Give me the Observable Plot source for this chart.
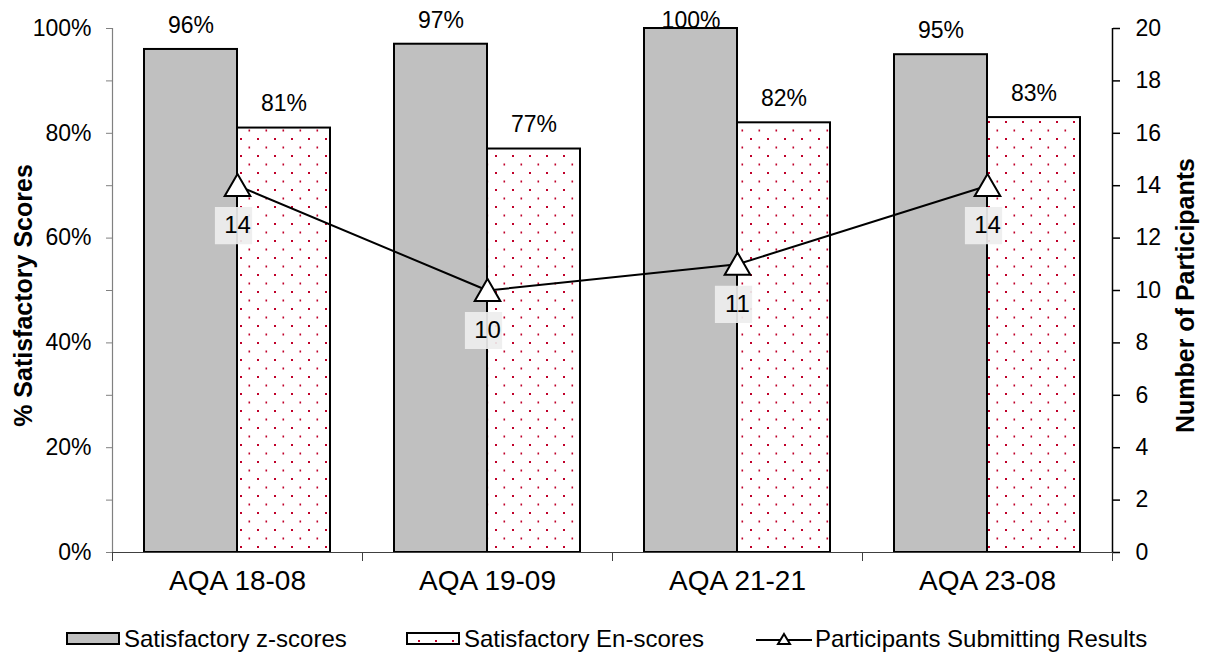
<!DOCTYPE html>
<html>
<head>
<meta charset="utf-8">
<script src="https://cdn.jsdelivr.net/npm/d3@7"></script>
<script src="https://cdn.jsdelivr.net/npm/@observablehq/plot@0.6"></script>
<style>
  body { margin: 0; background: #fff; overflow: hidden; font-family: "Liberation Sans", Arial, sans-serif; }
  #wrap { position: relative; width: 1208px; height: 655px; }
  .legend { position: absolute; top: 614px; left: 0; width: 1208px; height: 50px; }
  .item { position: absolute; top: 0; height: 50px; display: flex; align-items: center; font-size: 24px; color: #000; white-space: nowrap; }
  .item svg { display: block; margin-right: 3px; }
</style>
</head>
<body>
<div id="wrap"></div>
<script>
// Proficiency test rounds
const categories = ["AQA 18-08", "AQA 19-09", "AQA 21-21", "AQA 23-08"];
// % satisfactory z-scores per round
const zScores = [96, 97, 100, 95];
// % satisfactory En-scores per round
const enScores = [81, 77, 82, 83];
// Number of participants submitting results
const participants = [14, 10, 11, 14];

// Axis ticks
const leftTicks = [0, 20, 40, 60, 80, 100];
const leftMinorTicks = [0, 10, 20, 30, 40, 50, 60, 70, 80, 90, 100];
const rightTicks = [0, 2, 4, 6, 8, 10, 12, 14, 16, 18, 20];
const rightMax = 20; // participants axis maximum, aligned with 100%

const rows = categories.map((c, i) => ({
  i, cat: c, z: zScores[i], en: enScores[i], n: participants[i]
}));

const half = 0.372;                    // bar width as a fraction of a category slot
const toPct = n => n * 100 / rightMax; // participants onto the percent scale

const chart = Plot.plot({
  width: 1208,
  height: 605,
  marginLeft: 112,
  marginRight: 96,
  marginTop: 28,
  marginBottom: 53,
  x: { type: "linear", domain: [-0.5, categories.length - 0.5] },
  y: { domain: [0, 100] },
  style: {
    fontFamily: "'Liberation Sans', Arial, sans-serif",
    fontSize: "22px",
    color: "#000",
    background: "#fff",
    overflow: "visible"
  },
  marks: [
    // z-score bars
    Plot.rectY(rows, {
      x1: d => d.i - half, x2: d => d.i, y: "z",
      fill: "#c0c0c0", stroke: "#000", strokeWidth: 2
    }),
    // En-score bars with dotted fill
    Plot.rectY(rows, {
      x1: d => d.i, x2: d => d.i + half, y: "en",
      fill: "url(#dots)", stroke: "#000", strokeWidth: 2
    }),
    // axis lines
    Plot.ruleY([0], { stroke: "#404040", strokeWidth: 1.2 }),
    Plot.ruleX([-0.5], { stroke: "#808080", strokeWidth: 1.2 }),
    Plot.ruleX([categories.length - 0.5], { stroke: "#000", strokeWidth: 1.5 }),
    // left axis
    Plot.axisY(leftMinorTicks, {
      anchor: "left", tickSize: 6, tickFormat: () => "", stroke: "#808080", label: null
    }),
    Plot.axisY(leftTicks, {
      anchor: "left", tickSize: 0, tickPadding: 21, fontSize: 23,
      tickFormat: d => d + "%", label: null
    }),
    // right axis (participants)
    Plot.axisY(rightTicks.map(toPct), {
      anchor: "right", tickSize: 7, tickPadding: 16, fontSize: 23, stroke: "#000",
      strokeWidth: 1.5, tickFormat: d => String(Math.round(d * rightMax / 100)), label: null
    }),
    // bottom axis: boundary ticks + category names
    Plot.axisX(d3.range(-0.5, categories.length, 1), {
      anchor: "bottom", tickSize: 9, tickFormat: () => "", stroke: "#404040", label: null
    }),
    Plot.axisX(d3.range(categories.length), {
      anchor: "bottom", tickSize: 0, tickPadding: 18, fontSize: 28,
      tickFormat: i => categories[i], label: null
    }),
    // bar value labels (kept inside the top of the frame)
    Plot.text(rows, {
      x: d => d.i - half / 2, y: d => Math.min(d.z + 4.6, 101.5),
      text: d => d.z + "%", fontSize: 23
    }),
    Plot.text(rows, {
      x: d => d.i + half / 2, y: d => Math.min(d.en + 4.6, 101.5),
      text: d => d.en + "%", fontSize: 23
    }),
    // participants line
    Plot.line(rows, { x: "i", y: d => toPct(d.n), stroke: "#000", strokeWidth: 2 }),
    Plot.dot(rows, {
      x: "i", y: d => toPct(d.n), symbol: "triangle", r: 9.5, dy: 3,
      fill: "#fff", stroke: "#000", strokeWidth: 2
    }),
    // participant count labels on a light box
    Plot.dot(rows, {
      x: "i", y: d => toPct(d.n), symbol: "square", r: 21, dx: -4, dy: 40,
      fill: "#eeeeee", fillOpacity: 0.92, stroke: "none"
    }),
    Plot.text(rows, {
      x: "i", y: d => toPct(d.n), dy: 40, text: d => String(d.n), fontSize: 24
    }),
    // axis titles
    Plot.text(["% Satisfactory Scores"], {
      frameAnchor: "left", textAnchor: "middle", rotate: -90, dx: -89, dy: 5,
      text: d => d, fontSize: 25, fontWeight: "bold"
    }),
    Plot.text(["Number of Participants"], {
      frameAnchor: "right", textAnchor: "middle", rotate: -90, dx: 73, dy: 5,
      text: d => d, fontSize: 25, fontWeight: "bold"
    })
  ]
});

// dotted fill pattern for the En-score bars
d3.select(chart).insert("defs", ":first-child").html(`
  <pattern id="dots" width="17" height="17" patternUnits="userSpaceOnUse">
    <rect width="17" height="17" fill="#fff"/>
    <rect x="2" y="2" width="2" height="2" fill="#c0002a"/>
    <rect x="10.5" y="10.5" width="1.6" height="2" fill="#c0002a"/>
  </pattern>`);

const wrap = document.getElementById("wrap");
wrap.appendChild(chart);

// legend
const legend = document.createElement("div");
legend.className = "legend";
legend.innerHTML = `
  <div class="item" style="left:66px">
    <svg width="55" height="16"><rect x="1" y="2" width="52" height="11" fill="#c0c0c0" stroke="#000" stroke-width="2"/></svg>
    <span>Satisfactory z-scores</span>
  </div>
  <div class="item" style="left:406px">
    <svg width="55" height="16">
      <defs><pattern id="dotsL" width="17" height="17" patternUnits="userSpaceOnUse">
        <rect width="17" height="17" fill="#fff"/>
        <rect x="12" y="9" width="2" height="2" fill="#c0002a"/>
      </pattern></defs>
      <rect x="1" y="2" width="52" height="11" fill="url(#dotsL)" stroke="#000" stroke-width="2"/></svg>
    <span>Satisfactory En-scores</span>
  </div>
  <div class="item" style="left:756px">
    <svg width="56" height="16">
      <line x1="0" y1="9" x2="56" y2="9" stroke="#000" stroke-width="2"/>
      <path d="M28,3 L34,13 L22,13 Z" fill="#fff" stroke="#000" stroke-width="2"/></svg>
    <span>Participants Submitting Results</span>
  </div>`;
wrap.appendChild(legend);
</script>
</body>
</html>
